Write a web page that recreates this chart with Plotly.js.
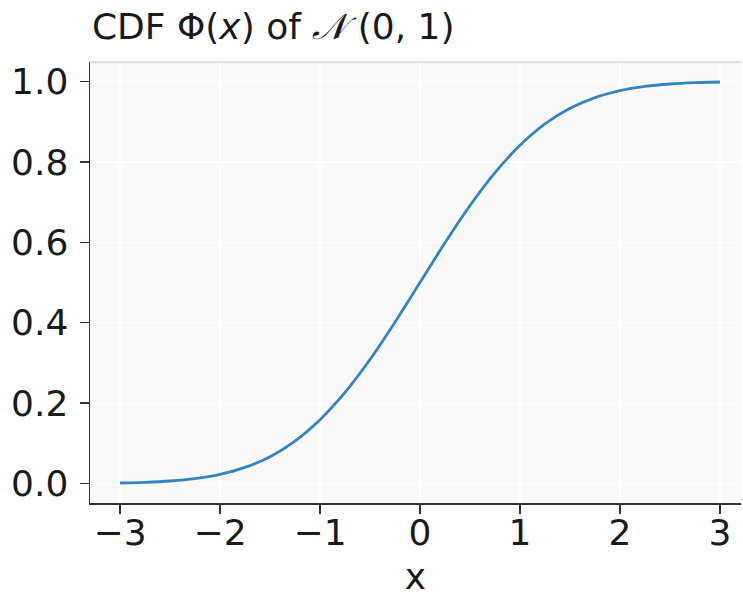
<!DOCTYPE html>
<html>
<head>
<meta charset="utf-8">
<script src="https://cdn.plot.ly/plotly-3.0.1.min.js"></script>
<style>html,body{margin:0;padding:0;background:#fff;}#chart{width:743px;height:597px;}</style>
</head>
<body>
<div id="chart"></div>
<script>
// Values
const xValues = [-3, -2.75, -2.5, -2.25, -2, -1.75, -1.5, -1.25, -1, -0.75, -0.5, -0.25, 0, 0.25, 0.5, 0.75, 1, 1.25, 1.5, 1.75, 2, 2.25, 2.5, 2.75, 3];
const cdfValues = [0.0013, 0.003, 0.0062, 0.0122, 0.0228, 0.0401, 0.0668, 0.1056, 0.1587, 0.2266, 0.3085, 0.4013, 0.5, 0.5987, 0.6915, 0.7734, 0.8413, 0.8944, 0.9332, 0.9599, 0.9772, 0.9878, 0.9938, 0.997, 0.9987];
const xTicks = [-3, -2, -1, 0, 1, 2, 3];
const xTickLabels = ['−3', '−2', '−1', '0', '1', '2', '3'];
const yTicks = [0, 0.2, 0.4, 0.6, 0.8, 1.0];
const yTickLabels = ['0.0', '0.2', '0.4', '0.6', '0.8', '1.0'];

const font = 'DejaVu Sans, sans-serif';
const FS = 36;

const trace = {
  x: xValues, y: cdfValues, type: 'scatter', mode: 'lines',
  line: {color: '#3384c3', width: 2.8, shape: 'spline', smoothing: 1},
  hoverinfo: 'skip'
};

const layout = {
  width: 743, height: 597,
  margin: {l: 90, r: 2, t: 62, b: 94},
  paper_bgcolor: '#ffffff',
  plot_bgcolor: '#f9f9f9',
  showlegend: false,
  title: {
    text: 'CDF Φ(<i>x</i>) of <i>𝒩</i> (0, 1)',
    font: {family: font, size: FS, color: '#1a1a1a'},
    x: 0.003, xref: 'paper', xanchor: 'left',
    y: 0.955, yref: 'container', yanchor: 'middle'
  },
  xaxis: {
    range: [-3.3, 3.21],
    tickvals: xTicks, ticktext: xTickLabels,
    tickfont: {family: font, size: FS, color: '#1a1a1a'},
    ticks: 'outside', ticklen: 9, tickwidth: 1.5, tickcolor: '#333',
    ticklabelstandoff: -12,
    showline: true, linecolor: '#333', linewidth: 1.5,
    showgrid: true, gridcolor: '#ffffff', gridwidth: 1.2,
    zeroline: false,
    title: {text: 'x', font: {family: font, size: FS, color: '#1a1a1a'}, standoff: 17}
  },
  yaxis: {
    range: [-0.0485, 1.0485],
    tickvals: yTicks, ticktext: yTickLabels,
    tickfont: {family: font, size: FS, color: '#1a1a1a'},
    ticks: 'outside', ticklen: 9, tickwidth: 1.5, tickcolor: '#333',
    ticklabelstandoff: 4,
    showline: true, linecolor: '#333', linewidth: 1.5,
    showgrid: true, gridcolor: '#ffffff', gridwidth: 1.2,
    zeroline: false
  },
  shapes: [
    {type: 'line', xref: 'paper', yref: 'paper', x0: 0, x1: 1, y0: 1, y1: 1,
     line: {color: '#c8c8c8', width: 1.2}}
  ]
};

Plotly.newPlot('chart', [trace], layout, {staticPlot: true, displayModeBar: false});
</script>
</body>
</html>
